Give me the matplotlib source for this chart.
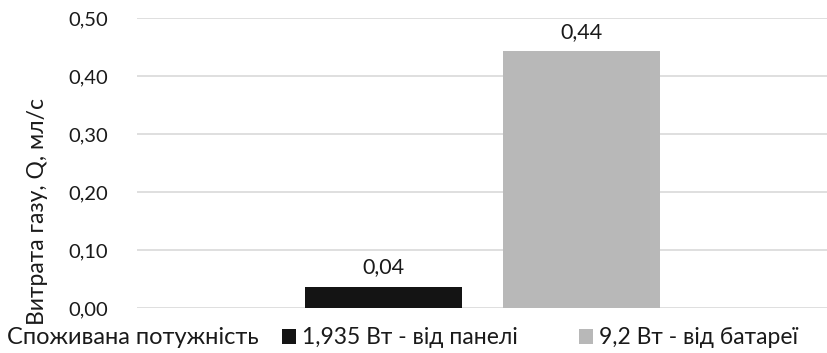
import matplotlib.pyplot as plt

# data
series_names = ["1,935 Вт - від панелі", "9,2 Вт - від батареї"]
values = [0.037, 0.443]
value_labels = ["0,04", "0,44"]
colors = ["#141414", "#b8b8b8"]
y_ticks = [0.0, 0.1, 0.2, 0.3, 0.4, 0.5]
y_tick_labels = ["0,00", "0,10", "0,20", "0,30", "0,40", "0,50"]

plt.rcParams['font.family'] = ['Lato', 'DejaVu Sans']

fig = plt.figure(figsize=(8.28, 3.53), dpi=100)
ax = fig.add_axes([0.1655, 0.1266, 0.8345, 0.8215])

offsets = [-0.143, 0.143]
width = 0.227
for name, v, c, off, lab in zip(series_names, values, colors, offsets, value_labels):
    b = ax.bar(off, v, width=width, color=c, label=name, zorder=3)
    ax.bar_label(b, labels=[lab], padding=7, fontsize=15.5, color="#1a1a1a")

ax.set_xlim(-0.5, 0.5)
ax.set_ylim(0, 0.5)
ax.set_yticks(y_ticks)
ax.set_yticklabels(y_tick_labels)
ax.set_xticks([])
ax.tick_params(axis='y', length=0, pad=21, labelsize=14.5, labelcolor="#1a1a1a")
ax.grid(axis='y', color="#d9d9d9", linewidth=1.2, zorder=0)
for s in ax.spines.values():
    s.set_visible(False)

fig.text(0.045, 0.40, "Витрата газу, Q, мл/с", rotation=90, ha='center', va='center',
         fontsize=16.5, color="#1a1a1a")
fig.text(0.009, 0.043, "Споживана потужність", ha='left', va='center',
         fontsize=17, color="#1a1a1a")

fig.legend(loc='center left', bbox_to_anchor=(0.341, 0.043), ncol=2, frameon=False,
           fontsize=16.5, handlelength=0.6, handleheight=0.6, handletextpad=0.25,
           columnspacing=2.7, borderpad=0, borderaxespad=0, labelcolor="#1a1a1a")

fig.savefig("out.png", dpi=100)
